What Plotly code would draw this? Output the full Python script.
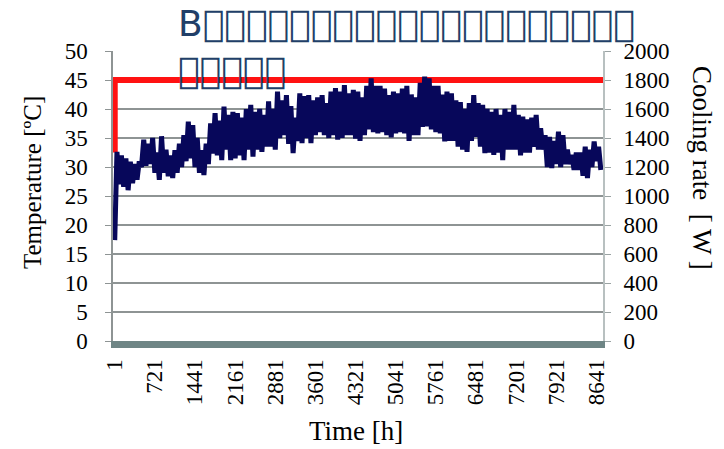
import plotly.graph_objects as go

# ---- data ----
hours = list(range(1, 8761, 40))
temperature_c = [
    17.4, 32.6, 27.0, 32.0, 26.6, 31.5, 26.0, 30.9, 27.2, 30.5,
    27.8, 31.0, 30.0, 34.7, 30.2, 34.0, 30.5, 35.0, 29.0, 32.5,
    27.8, 35.3, 29.0, 33.0, 28.4, 32.0, 28.1, 32.9, 29.0, 34.0,
    30.0, 35.5, 31.0, 37.8, 31.5, 37.2, 30.0, 35.0, 29.0, 32.9,
    28.6, 34.0, 30.5, 37.5, 32.3, 39.3, 32.0, 38.0, 31.2, 40.4,
    33.0, 39.0, 31.2, 39.5, 31.5, 39.3, 32.0, 38.5, 31.2, 40.0,
    33.0, 40.7, 31.8, 39.5, 33.0, 40.0, 32.6, 39.0, 33.5, 41.3,
    33.5, 40.0, 33.0, 43.0, 35.0, 41.5, 35.5, 42.4, 34.0, 40.5,
    32.4, 38.5, 34.5, 42.7, 34.1, 42.2, 35.0, 42.4, 34.1, 41.5,
    35.5, 42.0, 36.0, 42.4, 35.5, 41.0, 35.0, 43.0, 35.5, 43.6,
    34.7, 43.0, 35.0, 44.1, 35.5, 42.7, 35.5, 43.3, 34.9, 43.0,
    34.5, 42.0, 35.5, 44.0, 36.5, 45.3, 36.0, 44.0, 35.8, 44.0,
    36.0, 43.5, 35.5, 42.4, 35.1, 43.0, 35.8, 42.7, 36.0, 43.5,
    35.8, 44.0, 34.5, 42.5, 35.5, 42.0, 35.5, 44.5, 36.9, 45.6,
    37.0, 45.3, 36.5, 44.0, 36.0, 44.0, 35.8, 42.5, 34.4, 43.0,
    34.5, 42.7, 34.5, 41.5, 33.5, 41.2, 33.0, 40.0, 32.6, 41.0,
    34.5, 42.4, 35.2, 41.0, 33.5, 40.7, 32.4, 40.0, 32.5, 39.5,
    32.1, 40.0, 32.5, 39.0, 31.2, 40.0, 33.0, 39.5, 33.0, 40.7,
    33.0, 39.0, 32.0, 38.7, 32.5, 38.2, 32.5, 38.5, 33.5, 39.0,
    33.0, 36.7, 33.0, 35.5, 30.0, 35.2, 29.8, 34.5, 30.5, 36.1,
    30.0, 35.5, 30.5, 33.0, 30.5, 32.1, 29.5, 32.5, 29.5, 32.5,
    28.5, 33.5, 28.1, 33.0, 30.0, 34.4, 31.0, 33.5, 29.5,
]
cooling_hours = [1, 1, 8760]
cooling_w = [1300, 1800, 1800]

x_tick_vals = [1, 721, 1441, 2161, 2881, 3601, 4321, 5041, 5761, 6481, 7201, 7921, 8641]
x_tick_text = [str(v) for v in x_tick_vals]
temp_ticks = list(range(0, 51, 5))
cool_ticks = list(range(0, 2001, 200))

title_text = ("B" + "".join(chr(0xE000 + i) for i in range(20)) + "<br>"
              + "".join(chr(0xE020 + i) for i in range(5)))

SERIF = "Liberation Serif, Times New Roman, serif"
W, H = 724, 449
L, R, T, B = 113, 121, 51, 108
PW, PH = W - L - R, H - T - B


def px_x(x):
    return (x - L) / PW


def px_y(y):
    return (H - B - y) / PH


fig = go.Figure()
fig.add_trace(go.Scatter(
    x=cooling_hours, y=cooling_w, mode="lines", yaxis="y",
    line=dict(color="#ff1212", width=6), hoverinfo="skip", showlegend=False))
fig.add_trace(go.Scatter(
    x=hours, y=temperature_c, mode="lines", yaxis="y2",
    line=dict(color="#07075a", width=5), showlegend=False))

fig.update_layout(
    width=W, height=H,
    margin=dict(l=L, r=R, t=T, b=B, autoexpand=False),
    paper_bgcolor="white", plot_bgcolor="white",
    showlegend=False,
    xaxis=dict(range=[-30, 8760], tickvals=x_tick_vals, ticktext=x_tick_text,
               tickangle=-90, showgrid=False, zeroline=False,
               showline=True, linecolor="#6e8585", linewidth=7,
               ticks="", ticklabelstandoff=2,
               tickfont=dict(family=SERIF, size=23, color="black")),
    yaxis=dict(range=[0, 2000], tickvals=cool_ticks, side="right",
               showgrid=False, zeroline=False, showline=True,
               linecolor="#b8c0c0", linewidth=2, ticks="outside", ticklen=6,
               tickcolor="#9aa3a3", ticklabelstandoff=8,
               tickfont=dict(family=SERIF, size=23, color="black")),
    yaxis2=dict(range=[0, 50], tickvals=temp_ticks, side="left", overlaying="y",
                showgrid=True, gridcolor="#8e9494", gridwidth=2, zeroline=False,
                showline=True, linecolor="#8e9494", linewidth=1.5,
                ticks="outside", ticklen=6, tickcolor="#8e9494", ticklabelstandoff=13,
                tickfont=dict(family=SERIF, size=23, color="black")),
    annotations=[
        dict(text=title_text, xref="paper", yref="paper",
             x=px_x(176), y=px_y(1), xanchor="left", yanchor="top", align="left",
             showarrow=False,
             font=dict(family="DejaVu Sans, sans-serif", size=36, color="#213f68")),
        dict(text="Temperature [ºC]", textangle=-90, xref="paper", yref="paper",
             x=px_x(32), y=px_y(183),
             xanchor="center", yanchor="middle", showarrow=False,
             font=dict(family=SERIF, size=25, color="black")),
        dict(text="Cooling rate  [ W ]", textangle=90, xref="paper", yref="paper",
             x=px_x(702), y=px_y(168),
             xanchor="center", yanchor="middle", showarrow=False,
             font=dict(family=SERIF, size=27, color="black")),
        dict(text="Time [h]", xref="paper", yref="paper",
             x=px_x(356), y=px_y(431),
             xanchor="center", yanchor="middle", showarrow=False,
             font=dict(family=SERIF, size=27, color="black")),
    ],
)

fig.write_html("out.html")
